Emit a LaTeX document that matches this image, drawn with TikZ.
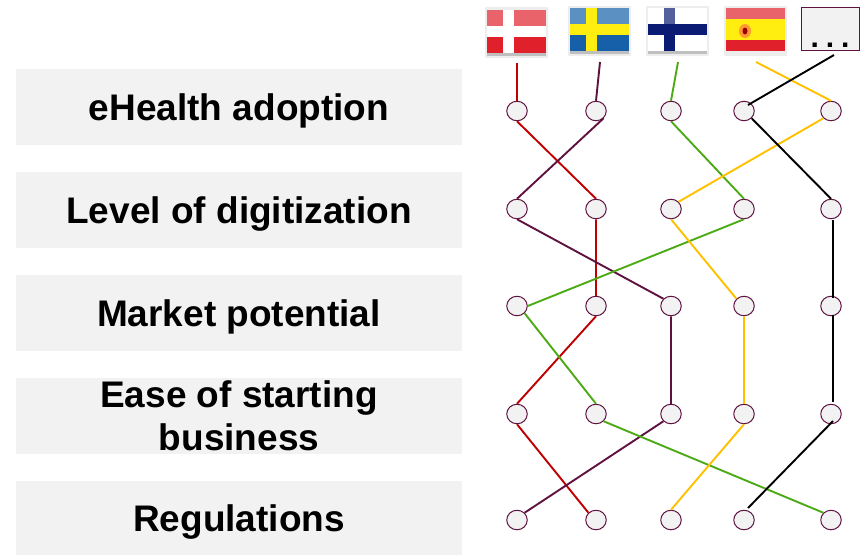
\documentclass[tikz,border=0pt]{standalone}
\usepackage{fontspec}
\setmainfont{Liberation Sans}
\usetikzlibrary{shapes.geometric}
\definecolor{panel}{HTML}{F2F2F2}
\definecolor{plum}{HTML}{5F1240}
\definecolor{routered}{HTML}{C00000}
\definecolor{routegreen}{HTML}{4CAA14}
\definecolor{routeyellow}{HTML}{FFC000}
\definecolor{flagred}{HTML}{E0202A}
\definecolor{flagblue}{HTML}{1560A8}
\definecolor{flagyellow}{HTML}{FFEE10}
\definecolor{flagnavy}{HTML}{0B1A72}
\tikzset{
  criterion/.style={fill=panel, minimum width=446pt, minimum height=76pt, inner sep=0pt, text depth=0pt, align=center, font=\fontsize{37}{43}\selectfont\bfseries},
  dot/.style={ellipse, draw=plum, fill=panel, line width=1pt, minimum width=20.5pt, minimum height=19.5pt, inner sep=0pt},
  route/.style={line width=1.9pt},
  halo/.style={fill=black!7, rounded corners=1pt},
  gloss/.style={fill=white, fill opacity=0.3}
}
\begin{document}
\begin{tikzpicture}[x=1pt,y=-1pt]
  \useasboundingbox (0,0) rectangle (861,555);
  % Criteria
  \node[criterion] (adoption) at (239,107) {eHealth adoption};
  \node[criterion] (digitization) at (239,210) {Level of digitization};
  \node[criterion] (market) at (239,313) {Market potential};
  \node[criterion] (ease) at (239,416) {Ease of starting\\business};
  \node[criterion, minimum height=74pt] (regulations) at (239,518) {Regulations};
  % Denmark
  \fill[halo] (485,7) rectangle (548,58);
  \fill[black!25] (487,53) rectangle (546,56);
  \fill[flagred] (487,10) rectangle (546,53);
  \fill[white] (503,10) rectangle (514,53);
  \fill[white] (487,26) rectangle (546,37);
  \fill[gloss] (487,10) rectangle (503,26);
  \fill[gloss] (514,10) rectangle (546,26);
  % Sweden
  \fill[halo] (568,6) rectangle (631,56);
  \fill[black!25] (570,51) rectangle (629,54);
  \fill[flagblue] (570,8) rectangle (629,51);
  \fill[flagyellow] (586,8) rectangle (597,51);
  \fill[flagyellow] (570,24) rectangle (629,35);
  \fill[gloss] (570,8) rectangle (586,24);
  \fill[gloss] (597,8) rectangle (629,24);
  % Finland
  \fill[halo] (646,6) rectangle (709,56);
  \fill[black!25] (648,51) rectangle (707,54);
  \fill[white] (648,8) rectangle (707,51);
  \fill[flagnavy] (664,8) rectangle (675,51);
  \fill[flagnavy] (648,24) rectangle (707,35);
  \fill[gloss] (664,8) rectangle (675,24);
  % Spain
  \fill[halo] (724,6) rectangle (787,56);
  \fill[flagred] (726,8) rectangle (785,51);
  \fill[flagyellow] (726,19) rectangle (785,40);
  \fill[gloss] (726,8) rectangle (785,19);
  \fill[orange!80] (745,31) ellipse (6pt and 7pt);
  \fill[red!60!black] (745,31) ellipse (2.5pt and 3.5pt);
  % More countries
  \node[draw=plum, fill=panel, line width=0.8pt, minimum width=58pt, minimum height=43pt, inner sep=0pt] (more) at (830,28.5) {};
  \node[font=\fontsize{30}{30}\selectfont\bfseries, inner sep=0pt, anchor=base] (moredots) at (830,47) {.\hspace{7pt}.\hspace{7pt}.};
  % Free ends under the flags
  \coordinate (startred) at (517,63);
  \coordinate (startplum) at (600,62);
  \coordinate (startgreen) at (678,62);
  \coordinate (startyellow) at (756,62);
  \coordinate (startblack) at (834,55);
  % First row
  \node[dot] (a1) at (517,111) {};
  \node[dot] (a2) at (596,111) {};
  \node[dot] (a3) at (671,111) {};
  \node[dot] (a4) at (744,111) {};
  \node[dot] (a5) at (831,111) {};
  % Second row
  \node[dot] (b1) at (517,209) {};
  \node[dot] (b2) at (596,209) {};
  \node[dot] (b3) at (671,209) {};
  \node[dot] (b4) at (744,209) {};
  \node[dot] (b5) at (831,209) {};
  % Third row
  \node[dot] (c1) at (517,306) {};
  \node[dot] (c2) at (596,306) {};
  \node[dot] (c3) at (671,306) {};
  \node[dot] (c4) at (744,306) {};
  \node[dot] (c5) at (831,306) {};
  % Fourth row
  \node[dot] (d1) at (517,414) {};
  \node[dot] (d2) at (596,414) {};
  \node[dot] (d3) at (671,414) {};
  \node[dot] (d4) at (744,414) {};
  \node[dot] (d5) at (831,414) {};
  % Fifth row
  \node[dot] (e1) at (517,520) {};
  \node[dot] (e2) at (596,520) {};
  \node[dot] (e3) at (671,520) {};
  \node[dot] (e4) at (744,520) {};
  \node[dot] (e5) at (831,520) {};
  % Country routes
  \draw[route, routered] (startred)--(a1.north) (a1.south)--(b2.north) (b2.south)--(c2.north) (c2.south)--(d1.north) (d1.south)--(e2.north west);
  \draw[route, plum] (startplum)--(a2.north) (a2.south east)--(b1.north) (b1.south)--(c3.north west) (c3.south)--(d3.north) (d3.south west)--(e1.north east);
  \draw[route, routegreen] (startgreen)--(a3.north) (a3.south)--(b4.north) (b4.south)--(c1.east) (c1.south east)--(d2.north) (d2.south east)--(e5.north west);
  \draw[route, routeyellow] (startyellow)--(a5.north) (a5.south west)--(b3.north east) (b3.south)--(c4.north west) (c4.south)--(d4.north) (d4.south)--(e3.north);
  \draw[route, black] (startblack)--([shift={(4,-6)}]a4.center) (a4.south east)--(b5.north);
  \draw[route, black] ([shift={(2,11)}]b5.center)--([shift={(2,-8)}]c5.center) ([shift={(2,9)}]c5.center)--([shift={(2,-12)}]d5.center);
  \draw[route, black] ([shift={(2,7)}]d5.center)--([shift={(4,-12)}]e4.center);
\end{tikzpicture}
\end{document}
